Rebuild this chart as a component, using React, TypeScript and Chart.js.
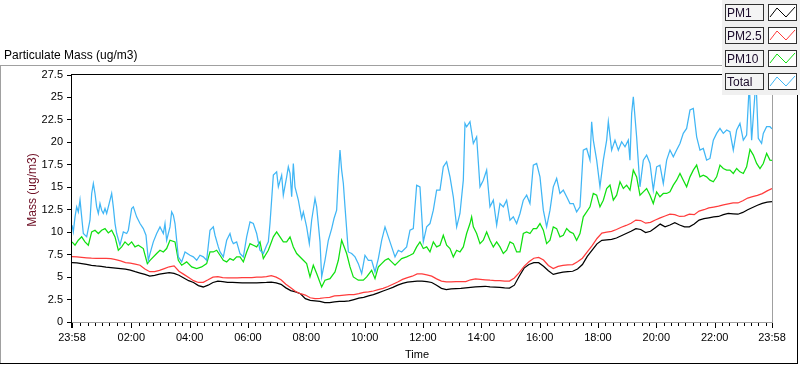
import React, { useEffect, useRef } from 'react';
import { Chart, registerables } from 'chart.js';

Chart.register(...registerables);

const FONT = '"Liberation Sans", Arial, sans-serif';

const seriesNames = ['PM1', 'PM2.5', 'PM10', 'Total'];
const seriesColors = ['#000000', '#ff3c3c', '#10e010', '#40b6f5'];

// minutes after the 23:58 start
const smoothMinutes = Array.from({ length: 145 }, (_, i) => i * 10);

const pm1Values = [
  6.62, 6.58, 6.5, 6.42, 6.3, 6.24, 6.2, 6.12, 6.06, 6.0,
  5.95, 5.88, 5.78, 5.6, 5.45, 5.3, 5.1, 5.2, 5.32, 5.42,
  5.5, 5.42, 5.2, 4.9, 4.6, 4.4, 4.05, 3.9, 4.1, 4.4,
  4.55, 4.5, 4.42, 4.4, 4.38, 4.35, 4.35, 4.35, 4.35, 4.38,
  4.4, 4.45, 4.35, 4.2, 3.8, 3.5, 3.35, 3.15, 2.6, 2.4,
  2.35, 2.3, 2.15, 2.15, 2.25, 2.3, 2.3, 2.35, 2.5, 2.65,
  2.75, 2.9, 3.05, 3.25, 3.45, 3.65, 3.85, 4.1, 4.3, 4.45,
  4.5, 4.55, 4.55, 4.5, 4.4, 4.1, 3.75, 3.6, 3.7, 3.72,
  3.75, 3.8, 3.85, 3.9, 3.95, 3.98, 3.92, 3.88, 3.85, 3.8,
  3.78, 4.1, 5.1, 6.0, 6.4, 6.6, 6.6, 6.2, 5.7, 5.3,
  5.45, 5.55, 5.6, 5.65, 5.9, 6.4, 7.3, 8.0, 8.7, 9.1,
  9.15, 9.2, 9.35, 9.6, 9.85, 10.1, 10.4, 10.3, 9.95, 10.1,
  10.5, 10.9, 10.6, 10.8, 11.05, 10.8, 10.6, 10.6, 10.9, 11.35,
  11.5, 11.6, 11.7, 11.75, 11.95, 12.1, 12.05, 12.0, 12.2, 12.5,
  12.75, 13.0, 13.2, 13.35, 13.4,
];

const pm25Values = [
  7.29, 7.25, 7.2, 7.15, 7.1, 7.08, 7.07, 7.07, 7.05, 6.95,
  6.8, 6.62, 6.55, 6.45, 6.32, 5.9, 5.6, 5.62, 5.75, 5.95,
  6.15, 6.25, 5.65, 5.3, 4.95, 4.6, 4.4, 4.42, 4.7, 5.0,
  5.05, 4.95, 4.9, 4.9, 4.92, 4.95, 4.95, 4.95, 5.0, 5.0,
  5.05, 5.15, 5.0, 4.7, 4.2, 3.8, 3.4, 3.15, 3.0, 2.7,
  2.6, 2.62, 2.7, 2.75, 2.9, 2.95, 3.0, 3.05, 3.05, 3.15,
  3.3, 3.35, 3.45, 3.6, 3.75, 3.95, 4.2, 4.45, 4.75, 4.95,
  5.1, 5.35, 5.35, 5.25, 5.1, 4.8, 4.55, 4.46, 4.46, 4.5,
  4.5, 4.5, 4.7, 4.8, 4.75, 4.7, 4.65, 4.62, 4.6, 4.55,
  4.55, 4.9, 5.5, 6.2, 6.7, 7.1, 7.2, 6.9, 6.3, 5.95,
  6.2, 6.3, 6.35, 6.4, 6.7, 7.1, 7.8, 8.5, 9.3, 9.9,
  10.0, 10.1, 10.3, 10.55, 10.75, 11.0, 11.35, 11.3, 11.0, 11.1,
  11.35, 11.6, 11.8, 12.0, 11.95, 11.75, 11.8, 12.0, 11.95, 12.35,
  12.5, 12.7, 12.8, 12.9, 13.05, 13.15, 13.25, 13.25, 13.5, 13.8,
  13.95, 14.1, 14.3, 14.6, 14.85,
];

const pm10Minutes = [
  0, 6.2, 13, 19.9, 26.7, 33.6, 40.5, 47.3, 54.2, 61,
  67.9, 74.7, 81.6, 88.5, 95.3, 102.2, 109, 115.9, 122.7, 129.6,
  136.5, 146.7, 155, 160.5, 174.2, 181, 187.9, 194.7, 201.6, 211.9,
  218.7, 225.6, 235.9, 246.2, 256.5, 266.7, 277, 283.9, 290.7, 297.6,
  304.5, 311.3, 318.2, 325, 331.9, 338.7, 345.6, 352.5, 359.3, 366.2,
  373, 379.9, 386.7, 393.6, 403.9, 414.2, 421, 427.9, 434.7, 441.6,
  448.5, 455.3, 462.2, 475.9, 482.7, 489.6, 496.4, 503.3, 513.6, 520.4,
  530.8, 541, 547.9, 554.7, 565, 571.9, 578.7, 589, 599.3, 606.2,
  616.4, 623.3, 630.2, 637, 643.9, 650.7, 657.6, 664.5, 671.3, 678.1,
  688.4, 695.3,
  702.1, 709, 715.8, 722.7, 729.6, 736.4, 743.3, 750.1, 757, 763.8,
  770.7, 777.6, 784.4, 791.3, 798.1, 805, 811.8, 818.7, 822.1, 825.6,
  832.4, 839.3, 846.1, 853, 859.8, 866.7, 873.6, 880.4, 887.3, 894.1,
  901, 907.8, 914.7, 921.6, 928.4, 935.3, 942.1, 949, 955.8, 962.7,
  969.6, 976.4, 983.3, 990.1, 997, 1003.8, 1010.7, 1017.6, 1024.4, 1031.3,
  1038.1, 1045, 1051.8, 1058.7, 1065.6, 1072.4, 1079.3, 1086.1, 1093, 1099.9,
  1106.7, 1113.6, 1120.4, 1127.3, 1134.2, 1141, 1147.9, 1154.7, 1161.5, 1168.4,
  1175.3, 1182.1, 1189, 1195.8, 1202.7, 1209.5, 1216.4, 1223.3, 1230.1, 1237,
  1243.8, 1250.7, 1257.5, 1264.4, 1271.3, 1278.1, 1285, 1291.8, 1298.7, 1305.5,
  1312.4, 1319.3, 1326.1, 1333, 1339.8, 1346.7, 1353.5, 1360.4, 1367.3, 1374.1,
  1381, 1387.8, 1394.7, 1401.6, 1408.4, 1415.3, 1422.1, 1429, 1435.8, 1440,
];

const pm10Values = [
  8.92, 8.55, 9.1, 9.48, 8.92, 8.55, 10.03, 10.22, 9.85, 10.22,
  10.4, 9.92, 10.22, 9.48, 7.99, 8.36, 8.92, 8.55, 8.92, 8.36,
  8.55, 8.18, 6.5, 6.87, 7.62, 7.99, 7.8, 8.18, 9.1, 8.92,
  6.87, 6.32, 6.69, 6.13, 5.95, 6.13, 6.5, 7.8, 7.8, 7.99,
  7.43, 6.87, 6.69, 7.06, 6.87, 7.25, 7.25, 6.69, 7.8, 8.73,
  8.55, 8.36, 8.92, 7.06, 7.99, 9.48, 10.03, 9.48, 8.92, 8.92,
  9.48, 8.36, 7.62, 6.87, 6.5, 5.02, 6.32, 5.39, 3.9, 4.65,
  4.83, 5.57, 6.87, 9.1, 7.62, 6.13, 5.02, 4.65, 4.65, 5.02,
  5.76, 4.83, 6.13, 6.5, 6.87, 7.06, 6.69, 6.32, 6.69, 7.06,
  7.25, 7.43,
  7.62, 8.36, 8.92, 8.18, 8.36, 7.8, 8.92, 8.36, 8.55, 9.66,
  8.55, 8.18, 7.25, 7.99, 7.8, 8.36, 9.85, 10.96, 11.71, 10.59,
  9.85, 8.73, 9.1, 10.03, 9.1, 8.36, 8.92, 8.36, 7.62, 7.99,
  8.92, 8.73, 7.8, 7.8, 9.85, 10.03, 9.85, 10.4, 10.4, 10.96,
  10.22, 8.73, 9.1, 10.59, 10.4, 9.48, 9.66, 10.4, 10.03, 9.85,
  9.1, 9.85, 11.71, 12.26, 12.82, 14.31, 14.12, 12.82, 13.56, 14.86,
  15.24, 13.56, 14.12, 15.61, 14.86, 15.24, 14.68, 16.91, 16.16, 14.12,
  14.49, 14.86, 14.12, 13.19, 14.49, 13.94, 14.31, 14.31, 14.49, 15.24,
  15.79, 16.54, 15.79, 15.05, 16.16, 16.91, 17.47, 16.16, 16.35, 16.16,
  15.79, 15.61, 16.16, 17.47, 17.09, 16.91, 16.91, 16.54, 17.09, 16.72,
  16.54, 17.28, 19.2, 18.58, 17.65, 17.09, 17.65, 18.77, 18.02, 18.0,
];

const totalMinutes = [
  0, 2.7, 6.2, 9.6, 13, 16.5, 19.9, 23.3, 30.2, 37,
  40.5, 43.9, 47.3, 50.7, 54.2, 57.6, 61, 64.5, 67.9, 71.3,
  78.2, 81.6, 85, 88.5, 91.9, 98.7, 105.6, 112.5, 115.9, 122.7,
  126.2, 133, 139.9, 146.7, 152.2, 157, 160.5, 167.3, 174.2, 181,
  187.9, 191.3, 194.7, 201.6, 205, 208.5, 211.9, 215.3, 218.7, 225.6,
  232.5, 242.7, 249.6, 256.5, 263.3, 270.2, 277, 283.9, 290.7, 294.2,
  301, 304.5, 311.3, 318.2, 325, 328.5, 331.9, 338.7, 345.6, 352.5,
  359.3, 366.2, 373, 379.9, 386.7, 393.6, 400.5, 403.9, 407.3, 414.2,
  421, 424.5, 431.3, 434.7, 441.6, 445, 448.5, 451.9, 455.3, 458.7,
  465.6, 472.5, 475.9, 482.7, 488.2, 493, 499.9, 503.3, 510.2, 513.6,
  520.4, 527.3, 534.2, 539, 544.4, 547.9, 551.3, 554.7, 558.2, 561.6,
  568.5, 575.3, 582.2, 589, 595.9, 602.7, 609.6, 616.4, 623.3, 630.2,
  637, 643.9, 650.7, 657.6, 664.5, 671.3, 678.1, 688.4, 695.3,
  702.1, 709, 715.8, 722.7, 729.6, 736.4, 743.3, 750.1, 757, 763.8,
  770.7, 777.6, 784.4, 791.3, 798.1, 805, 808.4, 811.8, 818.7, 825.6,
  832.4, 839.3, 846.1, 853, 859.8, 866.7, 873.6, 880.4, 887.3, 894.1,
  901, 907.8, 914.7, 921.6, 928.4, 935.3, 942.1, 949, 955.8, 962.7,
  969.6, 976.4, 983.3, 990.1, 997, 1003.8, 1010.7, 1017.6, 1024.4, 1031.3,
  1038.1, 1045, 1051.8, 1058.7, 1065.6, 1069, 1072.4, 1079.3, 1086.1, 1093,
  1099.9, 1103.3, 1110.1, 1117, 1123.9, 1130.7, 1137.6, 1144.4, 1147.8, 1151.3,
  1154.7, 1161.5, 1168.4, 1175.3, 1182.1, 1189, 1195.8, 1202.7, 1209.5, 1216.4,
  1223.3, 1230.1, 1237, 1243.8, 1250.7, 1257.5, 1264.4, 1271.3, 1278.1, 1285,
  1291.8, 1298.7, 1305.5, 1312.4, 1319.3, 1326.1, 1333, 1339.8, 1346.7, 1353.5,
  1360.4, 1367.3, 1374.1, 1381, 1387.8, 1393.3, 1398.1, 1407, 1411.8, 1418.6,
  1422.1, 1428.9, 1435.8, 1440,
];

const totalValues = [
  10.78, 10.03, 11.71, 12.82, 12.26, 13.6, 11.71, 9.85, 9.48, 11.33,
  14.31, 15.42, 14.31, 12.82, 12.08, 13.19, 12.45, 12.08, 12.63, 12.08,
  13.56, 14.31, 12.82, 10.96, 9.85, 8.55, 10.03, 9.85, 10.22, 12.63,
  12.82, 11.71, 10.96, 10.4, 9.66, 6.87, 7.62, 8.92, 9.85, 10.59,
  9.85, 10.96, 9.1, 10.59, 12.26, 11.89, 10.96, 9.1, 7.25, 6.69,
  7.8, 7.43, 7.25, 6.87, 7.43, 7.25, 6.87, 10.22, 10.59, 9.66,
  8.36, 7.8, 7.25, 9.1, 9.85, 9.1, 8.73, 8.92, 7.62, 7.25,
  9.48, 11.15, 10.96, 9.85, 7.99, 7.62, 8.55, 8.92, 10.96, 16.35,
  16.72, 15.05, 16.35, 14.12, 16.16, 17.28, 16.54, 13.94, 17.65, 15.05,
  13.56, 11.52, 12.26, 10.59, 8.73, 11.33, 13.75, 12.82, 8.92, 5.02,
  6.87, 9.1, 10.4, 11.52, 12.45, 16.16, 19.14, 16.91, 15.42, 12.82,
  7.8, 7.62, 7.25, 6.5, 5.39, 7.43, 6.87, 6.87, 5.57, 7.06,
  9.1, 10.59, 9.48, 8.36, 7.25, 7.99, 7.8, 8.36, 10.22,
  10.4, 15.24, 15.05, 8.92, 10.59, 10.96, 12.45, 14.68, 14.68, 17.28,
  17.84, 16.16, 13.94, 10.59, 12.08, 15.79, 22.11, 21.74, 22.3, 19.88,
  20.62, 15.05, 15.79, 16.91, 12.82, 13.56, 10.78, 13.19, 12.82, 13.56,
  11.33, 11.71, 10.96, 12.08, 13.56, 14.12, 13.19, 17.47, 17.65, 16.16,
  12.45, 10.59, 12.45, 15.05, 15.98, 14.31, 14.68, 13.94, 13.19, 13.19,
  12.26, 12.82, 19.14, 19.32, 18.02, 22.3, 20.25, 18.02, 15.05, 18.02,
  20.25, 22.3, 19.14, 20.25, 19.14, 20.07, 19.51, 20.25, 18.02, 23.23,
  25.08, 20.62, 15.05, 18.02, 18.58, 17.65, 14.68, 17.28, 17.47, 15.42,
  18.02, 19.14, 18.39, 19.14, 19.88, 21.0, 21.55, 23.6, 23.78, 20.62,
  19.14, 19.32, 18.02, 18.21, 20.25, 21.0, 21.55, 21.0, 21.37, 21.18,
  19.14, 21.37, 22.11, 20.25, 20.81, 26.5, 20.25, 27.0, 20.44, 19.88,
  21.0, 21.74, 21.74, 21.5,
];

const yTickValues = [0, 2.5, 5, 7.5, 10, 12.5, 15, 17.5, 20, 22.5, 25, 27.5];
const xMajorMinutes = [0, 122, 242, 362, 482, 602, 722, 842, 962, 1082, 1202, 1322, 1440];
const xMajorLabels = ['23:58', '02:00', '04:00', '06:00', '08:00', '10:00', '12:00', '14:00', '16:00', '18:00', '20:00', '22:00', '23:58'];
// quarter-hour clock marks (00:15 .. 23:45) expressed as minutes after 23:58
const xMinorMinutes = Array.from({ length: 95 }, (_, i) => (i + 1) * 15 + 2).filter(
  (m) => (m - 2) % 120 !== 0
);

const chartTitle = 'Particulate Mass (ug/m3)';
const yTitle = 'Mass (ug/m3)';
const xTitle = 'Time';

function pairs(xs: number[], ys: number[]) {
  return ys.map((y, i) => ({ x: xs[i], y }));
}

const decorPlugin = {
  id: 'decor',
  beforeDraw(chart: any) {
    const ctx = chart.ctx;
    ctx.save();
    ctx.fillStyle = '#ffffff';
    ctx.fillRect(0, 0, chart.width, chart.height);
    ctx.restore();
  },
  afterDraw(chart: any) {
    const { ctx, chartArea: ca } = chart;
    const xs = chart.scales.x;
    ctx.save();
    // outer panel frame
    ctx.fillStyle = '#a0a0a0';
    ctx.fillRect(0, 65, 722, 1);
    ctx.fillRect(0, 65, 1, 298);
    ctx.fillStyle = '#000000';
    ctx.fillRect(0, 363, 798, 1);
    ctx.fillRect(797, 95, 1, 269);

    // plot frame
    const L = Math.round(ca.left), T = Math.round(ca.top), R = Math.round(ca.right), B = Math.round(ca.bottom);
    ctx.fillStyle = '#000000';
    ctx.fillRect(L - 1, T - 1, R - L + 1, 1);
    ctx.fillRect(L - 1, T - 1, 1, B - T + 2);
    ctx.fillStyle = '#a0a0a0';
    ctx.fillRect(R, T - 1, 1, B - T + 1);
    ctx.fillRect(L, B, R - L + 1, 1);

    // x tick marks
    ctx.fillStyle = '#000000';
    xMinorMinutes.forEach((m) => {
      const px = Math.round(xs.getPixelForValue(m));
      ctx.fillRect(px, B + 1, 1, 3);
    });
    xMajorMinutes.forEach((m, i) => {
      const px = Math.round(xs.getPixelForValue(m));
      ctx.fillRect(i === 0 ? px - 1 : px, B + 1, i === 0 ? 2 : 1, 5);
    });

    // titles
    ctx.fillStyle = '#000000';
    ctx.font = '12px ' + FONT;
    ctx.textAlign = 'left';
    ctx.textBaseline = 'alphabetic';
    ctx.fillText(chartTitle, 4, 59);

    ctx.font = '11px ' + FONT;
    ctx.textAlign = 'center';
    ctx.fillText(xTitle, 417, 358);

    ctx.save();
    ctx.translate(36, 190);
    ctx.rotate(-Math.PI / 2);
    ctx.fillStyle = '#6e1025';
    ctx.font = '12px ' + FONT;
    ctx.textAlign = 'center';
    ctx.fillText(yTitle, 0, 0);
    ctx.restore();

    // legend panel
    ctx.fillStyle = '#f0f0f0';
    ctx.fillRect(722, 0, 78, 95);
    seriesNames.forEach((name, i) => {
      const top = 4 + i * 23;
      ctx.fillStyle = '#f4f4f4';
      ctx.fillRect(725, top, 38, 17);
      ctx.strokeStyle = '#303030';
      ctx.lineWidth = 1;
      ctx.strokeRect(725.5, top + 0.5, 38, 16);
      ctx.fillStyle = '#ffffff';
      ctx.fillRect(768, top, 29, 17);
      ctx.strokeRect(768.5, top + 0.5, 28, 16);
      ctx.fillStyle = '#1a0a2a';
      ctx.font = '12px ' + FONT;
      ctx.textAlign = 'left';
      ctx.textBaseline = 'alphabetic';
      ctx.fillText(name, 727, top + 13);
      ctx.strokeStyle = seriesColors[i];
      ctx.beginPath();
      ctx.moveTo(770, top + 13);
      ctx.lineTo(777, top + 4);
      ctx.lineTo(786, top + 13);
      ctx.lineTo(795, top + 3);
      ctx.stroke();
    });
    ctx.restore();
  },
};

export default function App() {
  const canvasRef = useRef<HTMLCanvasElement | null>(null);

  useEffect(() => {
    document.body.style.margin = '0';
    const canvas = canvasRef.current;
    if (!canvas) return;
    const seriesData = [
      pairs(smoothMinutes, pm1Values),
      pairs(smoothMinutes, pm25Values),
      pairs(pm10Minutes, pm10Values),
      pairs(totalMinutes, totalValues),
    ];
    const chart = new Chart(canvas, {
      type: 'line',
      data: {
        datasets: seriesNames.map((name, i) => ({
          label: name,
          data: seriesData[i],
          borderColor: seriesColors[i],
          backgroundColor: seriesColors[i],
          borderWidth: 1.25,
          pointRadius: 0,
          tension: 0,
          fill: false,
          order: 3 - i,
        })),
      },
      options: {
        animation: false,
        responsive: false,
        devicePixelRatio: 1,
        layout: { padding: { left: 0, top: 75, right: 28, bottom: 0 } },
        plugins: {
          legend: { display: false },
          title: { display: false },
          tooltip: { enabled: false },
        },
        scales: {
          x: {
            type: 'linear',
            min: 0,
            max: 1440,
            border: { display: false },
            grid: { display: false, drawTicks: false },
            afterFit: (scale: any) => {
              scale.height = 43;
            },
            afterBuildTicks: (scale: any) => {
              scale.ticks = xMajorMinutes.map((v) => ({ value: v }));
            },
            ticks: {
              autoSkip: false,
              maxRotation: 0,
              minRotation: 0,
              padding: 9,
              color: '#000000',
              font: { family: FONT, size: 11 },
              callback: (_v: any, idx: number) => xMajorLabels[idx],
            },
          },
          y: {
            type: 'linear',
            min: 0,
            max: 27.5,
            border: { display: false },
            grid: {
              drawOnChartArea: false,
              drawTicks: true,
              tickLength: 5,
              color: '#000000',
            },
            afterFit: (scale: any) => {
              scale.width = 72;
            },
            afterBuildTicks: (scale: any) => {
              scale.ticks = yTickValues.map((v) => ({ value: v }));
            },
            ticks: {
              padding: 4,
              color: '#000000',
              font: { family: FONT, size: 11 },
              callback: (v: any) => String(v),
            },
          },
        },
      },
      plugins: [decorPlugin],
    });
    return () => chart.destroy();
  }, []);

  return (
    <div style={{ width: 800, height: 365, position: 'relative' }}>
      <canvas ref={canvasRef} width={800} height={365} />
    </div>
  );
}
